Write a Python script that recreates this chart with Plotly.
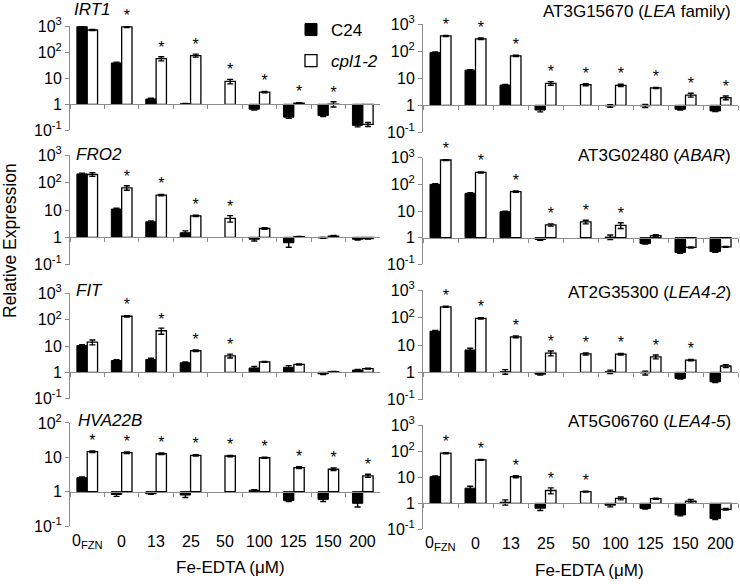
import plotly.graph_objects as go

W, H = 740, 584

# ---------------- data ----------------
categories = ["0FZN", "0", "13", "25", "50", "100", "125", "150", "200"]
cat_labels = ["0<sub>FZN</sub>", "0", "13", "25", "50", "100", "125", "150", "200"]
series_names = ["C24", "<i>cpl1-2</i>"]
panel_titles = ["<i>IRT1</i>", "<i>FRO2</i>", "<i>FIT</i>", "<i>HVA22B</i>",
                "AT3G15670 (<i>LEA</i> family)", "AT3G02480 (<i>ABAR</i>)",
                "AT2G35300 (<i>LEA4-2</i>)", "AT5G06760 (<i>LEA4-5</i>)"]
y_tick_vals = [0.1, 1, 10, 100, 1000]
y_tick_text = ["10<sup>-1</sup>", "1", "10", "10<sup>2</sup>", "10<sup>3</sup>"]
x_title = "Fe-EDTA (μM)"
y_title = "Relative Expression"

irt1_c24 = [1000, 39, 1.6, 1.05, None, 0.65, 0.32, 0.37, 0.155]
irt1_c24_err = [50, 3, 0.1, 0.02, 0, 0.05, 0.03, 0.03, 0.02]
irt1_cpl = [720, 960, 57, 75, 7.6, 2.95, 1.1, 1.02, 0.17]
irt1_cpl_err = [40, 60, 10, 10, 1.5, 0.2, 0.05, 0.23, 0.03]
irt1_sig = [0, 1, 1, 1, 1, 1, 1, 1, 0]

fro2_c24 = [210, 10.8, 3.7, 1.47, None, 0.85, 0.63, 0.95, 0.85]
fro2_c24_err = [15, 0.8, 0.3, 0.25, 0, 0.12, 0.2, 0.03, 0.05]
fro2_cpl = [200, 65, 35, 6.1, 4.9, 2.1, 1.05, 1.1, 0.9]
fro2_cpl_err = [30, 12, 2, 0.3, 1.3, 0.15, 0.03, 0.08, 0.03]
fro2_sig = [0, 1, 1, 1, 1, 0, 0, 0, 0]

fit_c24 = [10.4, 2.8, 3.1, 2.3, None, 1.46, 1.55, 0.88, 1.22]
fit_c24_err = [0.8, 0.2, 0.3, 0.15, 0, 0.2, 0.25, 0.06, 0.05]
fit_cpl = [14, 135, 38, 6.6, 4.2, 2.5, 2.0, 1.05, 1.37]
fit_cpl_err = [3, 8, 10, 0.5, 0.7, 0.1, 0.1, 0.03, 0.05]
fit_sig = [0, 1, 1, 1, 1, 0, 0, 0, 0]

hva22b_c24 = [2.55, 0.83, 0.87, 0.8, None, 1.1, 0.55, 0.6, 0.46]
hva22b_c24_err = [0.15, 0.1, 0.03, 0.12, 0, 0.05, 0.03, 0.08, 0.1]
hva22b_cpl = [14.6, 13.6, 12.7, 11.4, 10.9, 9.7, 5.0, 4.5, 2.9]
hva22b_cpl_err = [0.8, 0.8, 0.7, 0.6, 0.5, 0.3, 0.3, 0.4, 0.3]
hva22b_sig = [1, 1, 1, 1, 1, 1, 1, 1, 1]

lea_c24 = [90, 20, 5.6, 0.67, None, 0.95, 0.95, 0.71, 0.62]
lea_c24_err = [5, 1, 0.3, 0.1, 0, 0.1, 0.12, 0.04, 0.03]
lea_cpl = [370, 290, 68, 6.5, 5.8, 5.5, 4.4, 2.4, 1.9]
lea_cpl_err = [20, 20, 4, 1.0, 0.5, 0.5, 0.2, 0.4, 0.3]
lea_sig = [1, 1, 1, 1, 1, 1, 1, 1, 1]

abar_c24 = [100, 46, 9.4, 0.85, None, 1.05, 0.6, 0.28, 0.3]
abar_c24_err = [5, 3, 0.5, 0.06, 0, 0.2, 0.03, 0.02, 0.02]
abar_cpl = [820, 280, 53, 3.0, 3.9, 2.9, 1.2, 0.43, 0.45]
abar_cpl_err = [30, 15, 3, 0.3, 0.6, 0.7, 0.08, 0.02, 0.02]
abar_sig = [1, 1, 1, 1, 1, 1, 0, 0, 0]

lea42_c24 = [32, 6.6, 1.05, 0.85, None, 1.05, 0.95, 0.6, 0.45]
lea42_c24_err = [2, 1.0, 0.2, 0.06, 0, 0.15, 0.15, 0.03, 0.03]
lea42_cpl = [250, 95, 20, 5.0, 4.7, 4.6, 3.7, 2.8, 1.7]
lea42_cpl_err = [12, 6, 1.5, 1.0, 0.4, 0.3, 0.6, 0.15, 0.2]
lea42_sig = [1, 1, 1, 1, 1, 1, 1, 1, 0]

lea45_c24 = [10.6, 3.8, 1.1, 0.65, None, 0.85, 0.64, 0.36, 0.26]
lea45_c24_err = [0.6, 0.7, 0.25, 0.12, 0, 0.12, 0.04, 0.03, 0.02]
lea45_cpl = [83, 46, 10.5, 3.1, 2.8, 1.55, 1.5, 1.2, 0.59]
lea45_cpl_err = [4, 2, 1, 0.8, 0.1, 0.2, 0.08, 0.2, 0.04]
lea45_sig = [1, 1, 1, 1, 1, 0, 0, 0, 0]

panels_data = [
    (irt1_c24, irt1_c24_err, irt1_cpl, irt1_cpl_err, irt1_sig),
    (fro2_c24, fro2_c24_err, fro2_cpl, fro2_cpl_err, fro2_sig),
    (fit_c24, fit_c24_err, fit_cpl, fit_cpl_err, fit_sig),
    (hva22b_c24, hva22b_c24_err, hva22b_cpl, hva22b_cpl_err, hva22b_sig),
    (lea_c24, lea_c24_err, lea_cpl, lea_cpl_err, lea_sig),
    (abar_c24, abar_c24_err, abar_cpl, abar_cpl_err, abar_sig),
    (lea42_c24, lea42_c24_err, lea42_cpl, lea42_cpl_err, lea42_sig),
    (lea45_c24, lea45_c24_err, lea45_cpl, lea45_cpl_err, lea45_sig),
]
panel_top_exp = [3, 3, 3, 2, 3, 3, 3, 3]

# ---------------- layout geometry (pixels) ----------------
# (x_left, x_right, y_top, y_bottom)
geom = [
    (70, 380, 26.3, 130.3),
    (70, 380, 155.4, 264.6),
    (70, 380, 293.4, 398.6),
    (70, 380, 422.9, 526.1),
    (423, 738, 24.3, 132.3),
    (423, 738, 157.7, 264.3),
    (423, 738, 290.4, 399.6),
    (423, 738, 425.0, 529.4),
]
# title positions: (x_px, y_px, anchor)
title_pos = [
    (72, 9, "left"), (74, 154, "left"), (74, 290, "left"), (76, 420, "left"),
    (733, 12, "right"), (733, 155, "right"), (733, 292, "right"), (733, 421, "right"),
]

FONT = "Liberation Sans, Arial, sans-serif"
AXIS_GRAY = "#8c8c8c"

fig = go.Figure()
layout = dict(
    template="none",
    width=W, height=H,
    margin=dict(l=0, r=0, t=0, b=0, pad=0, autoexpand=False),
    paper_bgcolor="white", plot_bgcolor="rgba(0,0,0,0)",
    font=dict(family=FONT, size=16, color="black"),
    barmode="group", bargap=0.4, bargroupgap=0.0,
    showlegend=True,
    legend=dict(x=291 / W, y=1 - 12 / H, xanchor="left", yanchor="top",
                font=dict(size=17), bgcolor="rgba(0,0,0,0)", borderwidth=0,
                traceorder="grouped", tracegroupgap=6,
                itemwidth=30),
)

annotations = []
for i, (c24, c24_err, cpl, cpl_err, sig) in enumerate(panels_data):
    ax = "" if i == 0 else str(i + 1)
    xl, xr, yt, yb = geom[i]
    top = panel_top_exp[i]
    d_bot, d_top = 1 - yb / H, 1 - yt / H
    pos_one = d_bot + (0 - (-1)) / (top - (-1)) * (d_top - d_bot)

    fig.add_trace(go.Bar(
        x=categories,
        y=[(v - 1) if v is not None else None for v in c24],
        base=1,
        name=series_names[0], legendgroup="c24", showlegend=(i == 0),
        marker=dict(color="black", line=dict(color="black", width=1)),
        error_y=dict(type="data", array=c24_err, color="black", thickness=1.4, width=3),
        xaxis="x" + ax, yaxis="y" + ax, cliponaxis=False,
    ))
    fig.add_trace(go.Bar(
        x=categories,
        y=[(v - 1) if v is not None else None for v in cpl],
        base=1,
        name=series_names[1], legendgroup="cpl", showlegend=(i == 0),
        marker=dict(color="white", line=dict(color="black", width=1.3)),
        error_y=dict(type="data", array=cpl_err, color="black", thickness=1.4, width=3),
        text=["*" if s else "" for s in sig], textposition="outside",
        textfont=dict(size=16, color="black"), textangle=0,
        constraintext="none", cliponaxis=False,
        xaxis="x" + ax, yaxis="y" + ax,
    ))

    layout["xaxis" + ax] = dict(
        domain=[xl / W, xr / W], anchor="free", position=pos_one,
        type="category", categoryorder="array", categoryarray=categories,
        range=[-0.5, len(categories) - 0.5], automargin=False,
        showline=True, linecolor=AXIS_GRAY, linewidth=1,
        ticks="outside", tickson="boundaries", ticklen=4, tickcolor=AXIS_GRAY,
        showticklabels=False, showgrid=False, zeroline=False, fixedrange=True,
    )
    tv = [v for v in y_tick_vals if v <= 10 ** top]
    tt = [y_tick_text[k] for k, v in enumerate(y_tick_vals) if v <= 10 ** top]
    layout["yaxis" + ax] = dict(
        domain=[d_bot, d_top], anchor="x" + ax, type="log", range=[-1, top],
        automargin=False,
        tickvals=tv, ticktext=tt, tickfont=dict(size=16),
        showline=True, linecolor=AXIS_GRAY, linewidth=1,
        ticks="outside", ticklen=4, tickcolor=AXIS_GRAY,
        showgrid=False, zeroline=False, fixedrange=True,
    )

    tx, ty, anc = title_pos[i]
    annotations.append(dict(text=panel_titles[i], x=tx / W, y=1 - ty / H,
                            xref="paper", yref="paper", xanchor=anc, yanchor="middle",
                            showarrow=False, font=dict(size=17)))

# category labels under the bottom panels (category axes use the category index)
for axname, ypx in (("x4", 541.5), ("x8", 543.5)):
    for k, lab in enumerate(cat_labels):
        annotations.append(dict(text=lab, x=k, y=1 - ypx / H, xref=axname, yref="paper",
                                xanchor="center", yanchor="middle", showarrow=False,
                                font=dict(size=16)))

# axis titles
annotations.append(dict(text=x_title, x=230 / W, y=1 - 567 / H, xref="paper", yref="paper",
                        showarrow=False, font=dict(size=17), xanchor="center", yanchor="middle"))
annotations.append(dict(text=x_title, x=589 / W, y=1 - 570 / H, xref="paper", yref="paper",
                        showarrow=False, font=dict(size=17), xanchor="center", yanchor="middle"))
annotations.append(dict(text=y_title, x=10 / W, y=1 - 241 / H, xref="paper", yref="paper",
                        showarrow=False, font=dict(size=17.5), textangle=-90,
                        xanchor="center", yanchor="middle"))

layout["annotations"] = annotations
fig.update_layout(**layout)
fig.write_html(
    "out.html",
    config={"displayModeBar": False, "staticPlot": True},
    post_script="document.body.style.margin='0';document.body.style.overflow='hidden';",
)
